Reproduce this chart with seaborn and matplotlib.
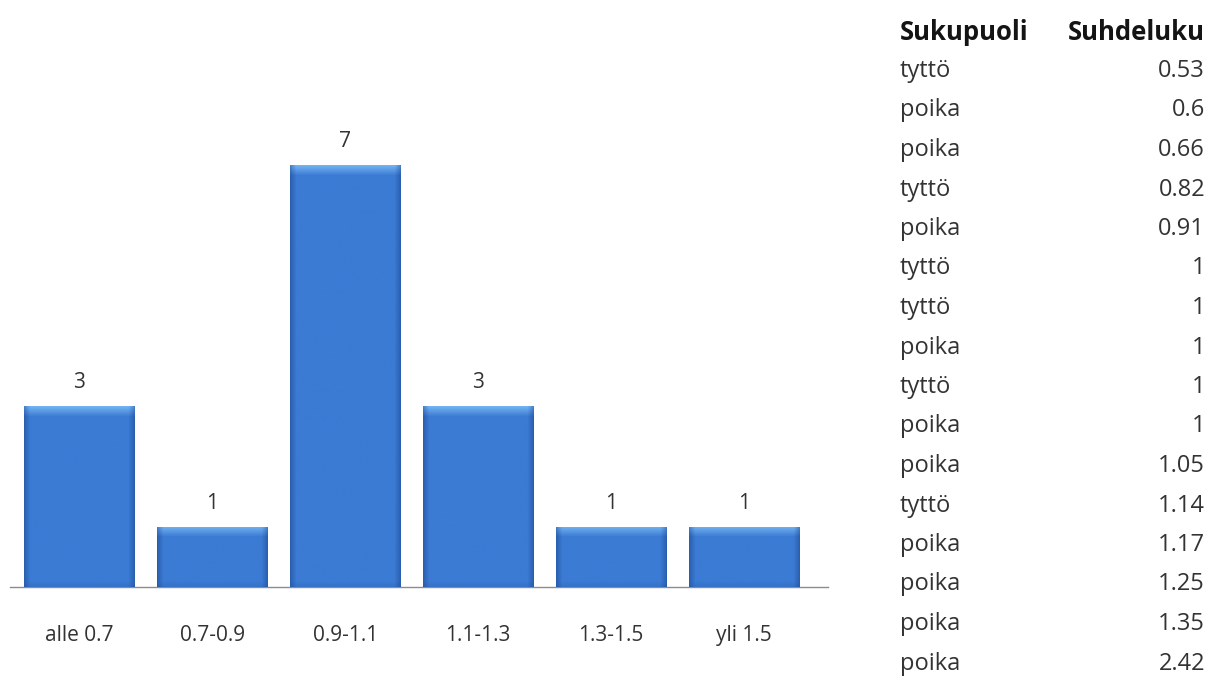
import numpy as np
import pandas as pd
import matplotlib
matplotlib.use("Agg")
import matplotlib.pyplot as plt
import seaborn as sns

# Histogram of ratios by class
categories = ["alle 0.7", "0.7-0.9", "0.9-1.1", "1.1-1.3", "1.3-1.5", "yli 1.5"]
counts = [3, 1, 7, 3, 1, 1]

# Source table
table_header = ["Sukupuoli", "Suhdeluku"]
genders = ["tyttö", "poika", "poika", "tyttö", "poika", "tyttö", "tyttö", "poika",
           "tyttö", "poika", "poika", "tyttö", "poika", "poika", "poika", "poika"]
ratios = ["0.53", "0.6", "0.66", "0.82", "0.91", "1", "1", "1",
          "1", "1", "1.05", "1.14", "1.17", "1.25", "1.35", "2.42"]

sns.set_theme(style="white")
plt.rcParams["font.family"] = ["Open Sans", "DejaVu Sans"]

W, H, DPI = 1215, 680, 100
fig = plt.figure(figsize=(W / DPI, H / DPI), dpi=DPI)
fig.patch.set_facecolor("white")

ax = fig.add_axes([10 / W, (H - 587) / H, 818 / W, 482 / H])
df = pd.DataFrame({"luokka": categories, "lkm": counts})
sns.barplot(data=df, x="luokka", y="lkm", color="#3B7BD4", width=0.83,
            saturation=1, ax=ax, zorder=2)

XL = (-0.52, 5.63)
ax.set_ylim(0, 8)
ax.set_xlim(*XL)
ax.set_xlabel("")
ax.set_ylabel("")
ax.set_yticks([])
for s in ["top", "right", "left"]:
    ax.spines[s].set_visible(False)
ax.spines["bottom"].set_color("#8c8c8c")
ax.spines["bottom"].set_linewidth(1.0)
ax.tick_params(axis="x", length=0, pad=35, labelsize=15, colors="#333333")
for lbl in ax.get_xticklabels():
    lbl.set_va("center")

# Bevelled gradient fill for each bar
px_per_unit_x = 818 / (XL[1] - XL[0])
px_per_unit_y = 482 / 8
base = np.array([59, 123, 212]) / 255
dark = np.array([36, 84, 160]) / 255
light = np.array([115, 178, 240]) / 255
for bar in ax.patches:
    x0, y0 = bar.get_x(), bar.get_y()
    w, h = bar.get_width(), bar.get_height()
    wpx = max(int(w * px_per_unit_x), 2)
    hpx = max(int(h * px_per_unit_y), 2)
    xs = np.arange(wpx)
    ys = np.arange(hpx)
    edge = np.minimum(xs, wpx - 1 - xs)
    hfac = np.clip(1 - edge / 6.0, 0, 1)[None, :]
    vtop = np.clip(1 - ys / 10.0, 0, 1)[:, None]
    vbot = np.clip(1 - (hpx - 1 - ys) / 5.0, 0, 1)[:, None]
    img = np.ones((hpx, wpx, 3)) * base
    img = img * (1 - 0.7 * hfac[..., None]) + dark * (0.7 * hfac[..., None])
    img = img * (1 - 0.25 * vbot[..., None]) + dark * (0.25 * vbot[..., None])
    top_mask = vtop * (1 - 0.6 * hfac)
    img = img * (1 - top_mask[..., None]) + light * top_mask[..., None]
    im = ax.imshow(img, extent=[x0, x0 + w, y0, y0 + h], origin="upper",
                   aspect="auto", zorder=3, interpolation="bilinear")
    im.set_clip_path(bar)
    ax.text(x0 + w / 2, h + 0.3, f"{int(h)}", ha="center", va="baseline",
            fontsize=15, color="#333333", zorder=4)
ax.set_xlim(*XL)
ax.set_ylim(0, 8)

# Table on the right
left_x = 900 / W
right_x = 1205 / W
fig.text(left_x, 1 - 32 / H, table_header[0], ha="left", va="center",
         fontsize=18.5, fontweight="bold", color="#141414")
fig.text(right_x, 1 - 32 / H, table_header[1], ha="right", va="center",
         fontsize=18.5, fontweight="bold", color="#141414")
for i, (g, r) in enumerate(zip(genders, ratios)):
    y = 1 - (71 + 39.5 * i) / H
    fig.text(left_x, y, g, ha="left", va="center", fontsize=17, color="#333333")
    fig.text(right_x, y, r, ha="right", va="center", fontsize=17, color="#333333")

fig.savefig("out.png", dpi=DPI, facecolor="white")
